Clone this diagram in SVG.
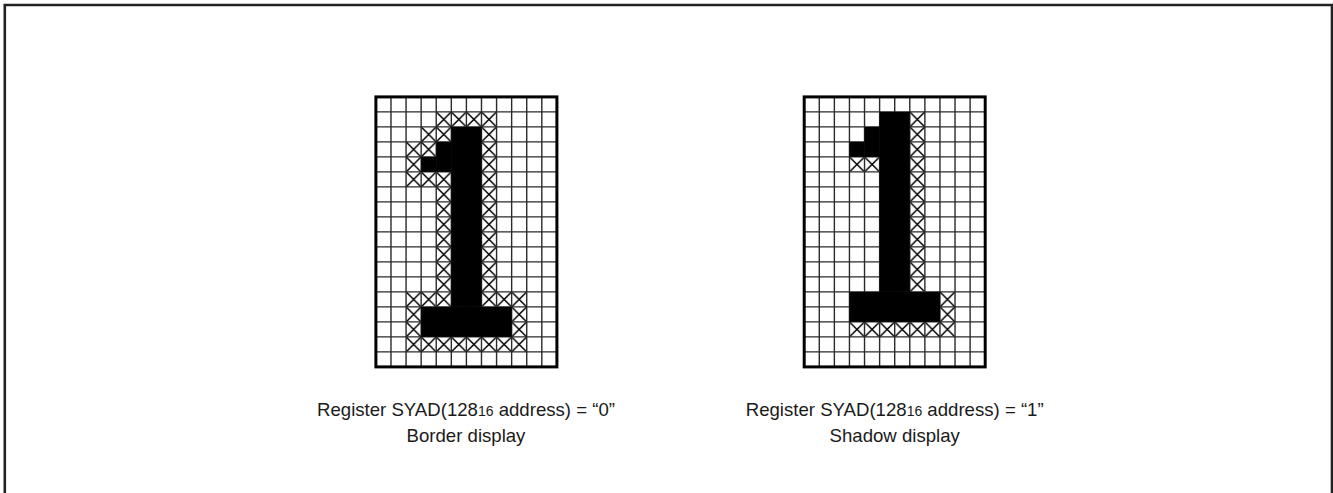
<svg xmlns="http://www.w3.org/2000/svg" width="1333" height="493" viewBox="0 0 1333 493">
<style>
text{font-family:"Liberation Sans",Arial,sans-serif;font-size:18.6px;fill:#1a1a1a;text-anchor:middle}
.s{font-size:14px}
.h{fill:url(#x)}
.b{fill:#000}
.g{fill:none;stroke:#2a2a2a;stroke-width:1.4}
.o{fill:none;stroke:#000;stroke-width:3}
</style>
<defs>
<pattern id="x" patternUnits="userSpaceOnUse" width="15.08" height="15">
<path d="M0 0L15.08 15M15.08 0L0 15" fill="none" stroke="#000" stroke-width="1.5"/>
</pattern>
<g id="grid">
<path class="g" d="M15.08 0V270M30.17 0V270M45.25 0V270M60.33 0V270M75.42 0V270M90.5 0V270M105.58 0V270M120.67 0V270M135.75 0V270M150.83 0V270M165.92 0V270M0 15H181M0 30H181M0 45H181M0 60H181M0 75H181M0 90H181M0 105H181M0 120H181M0 135H181M0 150H181M0 165H181M0 180H181M0 195H181M0 210H181M0 225H181M0 240H181M0 255H181"/>
</g>
</defs>
<rect width="1333" height="493" fill="#fff"/>
<path d="M4.8 493V5H1332V493" fill="none" stroke="#222" stroke-width="2.6"/>
<g id="border-figure" transform="translate(375.9 96.9)">
<rect class="h" x="60.33" y="15" width="60.33" height="15"/>
<rect class="h" x="45.25" y="30" width="30.17" height="15"/>
<rect class="h" x="30.17" y="45" width="30.17" height="15"/>
<rect class="h" x="30.17" y="60" width="15.08" height="15"/>
<rect class="h" x="30.17" y="75" width="45.25" height="15"/>
<rect class="h" x="60.33" y="90" width="15.08" height="105"/>
<rect class="h" x="105.58" y="30" width="15.08" height="165"/>
<rect class="h" x="30.17" y="195" width="45.25" height="15"/>
<rect class="h" x="105.58" y="195" width="45.25" height="15"/>
<rect class="h" x="30.17" y="210" width="15.08" height="30"/>
<rect class="h" x="135.75" y="210" width="15.08" height="30"/>
<rect class="h" x="30.17" y="240" width="120.67" height="15"/>
<use href="#grid"/>
<rect class="b" x="75.42" y="30" width="30.17" height="180"/>
<rect class="b" x="60.33" y="45" width="15.08" height="30"/>
<rect class="b" x="45.25" y="60" width="15.08" height="15"/>
<rect class="b" x="45.25" y="210" width="90.5" height="30"/>
<rect class="o" width="181" height="270"/>
</g>
<g id="shadow-figure" transform="translate(804.2 96.9)">
<rect class="h" x="105.58" y="15" width="15.08" height="180"/>
<rect class="h" x="45.25" y="60" width="30.17" height="15"/>
<rect class="h" x="135.75" y="195" width="15.08" height="30"/>
<rect class="h" x="45.25" y="225" width="105.58" height="15"/>
<use href="#grid"/>
<rect class="b" x="75.42" y="15" width="30.17" height="180"/>
<rect class="b" x="60.33" y="30" width="15.08" height="30"/>
<rect class="b" x="45.25" y="45" width="15.08" height="15"/>
<rect class="b" x="45.25" y="195" width="90.5" height="30"/>
<rect class="o" width="181" height="270"/>
</g>
<g id="labels">
<text x="466" y="416">Register SYAD(128<tspan class="s">16</tspan> address) = “0”</text>
<text x="466" y="442">Border display</text>
<text x="894.7" y="416">Register SYAD(128<tspan class="s">16</tspan> address) = “1”</text>
<text x="894.7" y="442">Shadow display</text>
</g>
</svg>
